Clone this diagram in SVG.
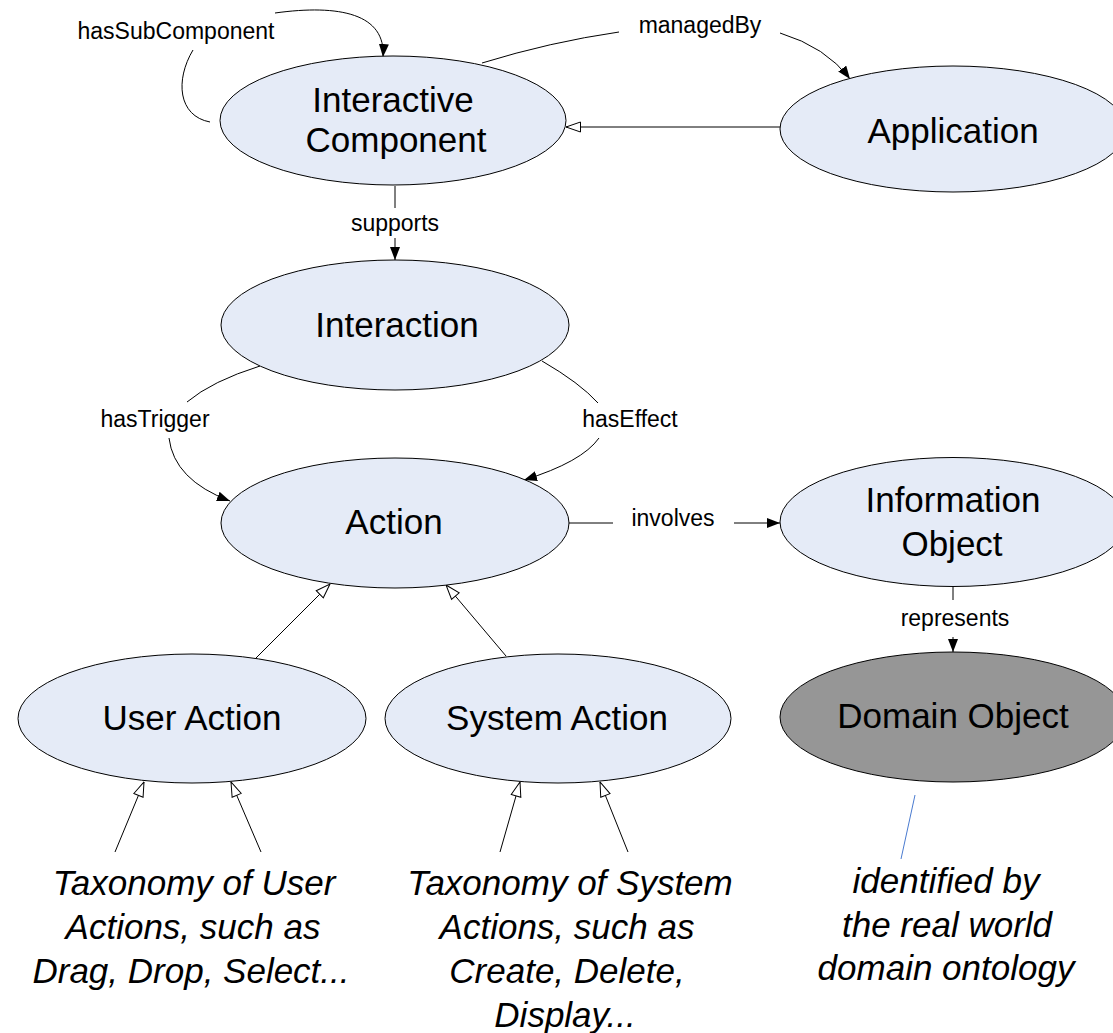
<svg xmlns="http://www.w3.org/2000/svg" width="1113" height="1033" viewBox="0 0 1113 1033">
<style>
.node{fill:#E5EBF7;stroke:#000;stroke-width:1}
.dark{fill:#969696;stroke:#000;stroke-width:1}
.lbl{font-family:"Liberation Sans",Arial,sans-serif;font-size:35px;fill:#000;text-anchor:middle}
.small{font-family:"Liberation Sans",Arial,sans-serif;font-size:23px;fill:#000;text-anchor:middle}
.note{font-family:"Liberation Sans",Arial,sans-serif;font-size:35px;font-style:italic;fill:#000;text-anchor:middle}
.edge{fill:none;stroke:#000;stroke-width:1}
.arr{marker-end:url(#arrow)}
.inh{marker-end:url(#hollow)}
</style>
<defs>
<marker id="arrow" viewBox="0 0 13 10" refX="13" refY="5" markerWidth="13" markerHeight="10" orient="auto" markerUnits="userSpaceOnUse"><path d="M0,0 L13,5 L0,10 z" fill="#000"/></marker>
<marker id="hollow" viewBox="0 0 16 12" refX="15.5" refY="6" markerWidth="16" markerHeight="12" orient="auto" markerUnits="userSpaceOnUse"><path d="M1,1 L15.5,6 L1,11 z" fill="#fff" stroke="#000" stroke-width="1"/></marker>
</defs>
<rect width="1113" height="1033" fill="#fff"/>

<g id="connectors">
<!-- hasSubComponent -->
<path class="edge" d="M193 50 C175 80 178 116 210 122"/>
<path class="edge arr" d="M275 13 C340 4 386 14 383 57"/>
<text class="small" x="176" y="39">hasSubComponent</text>
<!-- managedBy -->
<path class="edge" d="M482 63 Q550 42 619 32"/>
<path class="edge arr" d="M780 33 Q826 47 850 79"/>
<text class="small" x="700" y="33">managedBy</text>
<!-- Application isa InteractiveComponent -->
<line class="edge inh" x1="780" y1="127" x2="566" y2="127"/>
<!-- supports -->
<line class="edge" x1="395" y1="186" x2="395" y2="208"/>
<line class="edge arr" x1="395" y1="238" x2="395" y2="260"/>
<text class="small" x="395" y="231">supports</text>
<!-- hasTrigger -->
<path class="edge" d="M260 366 Q212 381 187 402"/>
<path class="edge arr" d="M169 438 Q174 480 230 501"/>
<text class="small" x="155" y="427">hasTrigger</text>
<!-- hasEffect -->
<path class="edge" d="M542 361 Q580 383 598 403"/>
<path class="edge arr" d="M599 438 Q582 462 524 480"/>
<text class="small" x="630" y="427">hasEffect</text>
<!-- involves -->
<line class="edge" x1="568" y1="523" x2="613" y2="523"/>
<line class="edge arr" x1="734" y1="523" x2="780" y2="523"/>
<text class="small" x="673" y="526">involves</text>
<!-- represents -->
<line class="edge" x1="953" y1="587" x2="953" y2="600"/>
<line class="edge arr" x1="953" y1="637" x2="953" y2="652"/>
<text class="small" x="955" y="626">represents</text>
<!-- inheritance to Action -->
<line class="edge inh" x1="256" y1="658" x2="330" y2="584"/>
<line class="edge inh" x1="506" y1="656" x2="446" y2="585"/>
<!-- taxonomy to User Action -->
<line class="edge inh" x1="115" y1="852" x2="144" y2="782"/>
<line class="edge inh" x1="261" y1="852" x2="231" y2="782"/>
<!-- taxonomy to System Action -->
<line class="edge inh" x1="500" y1="852" x2="520" y2="782"/>
<line class="edge inh" x1="628" y1="852" x2="600" y2="782"/>
<!-- domain note -->
<line x1="915" y1="795" x2="901" y2="859" stroke="#4A7BD0" stroke-width="1"/>
</g>

<g id="interactive-component">
<ellipse class="node" cx="393" cy="120.5" rx="173" ry="64.5"/>
<text class="lbl" x="393" y="112">Interactive</text>
<text class="lbl" x="396" y="152">Component</text>
</g>
<g id="application">
<ellipse class="node" cx="953" cy="129" rx="173" ry="63"/>
<text class="lbl" x="953" y="143">Application</text>
</g>
<g id="interaction">
<ellipse class="node" cx="395" cy="325" rx="174" ry="65"/>
<text class="lbl" x="397" y="337">Interaction</text>
</g>
<g id="action">
<ellipse class="node" cx="395" cy="523" rx="174" ry="65"/>
<text class="lbl" x="394" y="534">Action</text>
</g>
<g id="information-object">
<ellipse class="node" cx="953" cy="522" rx="173" ry="64.5"/>
<text class="lbl" x="953" y="512">Information</text>
<text class="lbl" x="952" y="556">Object</text>
</g>
<g id="domain-object">
<ellipse class="dark" cx="953" cy="717" rx="173" ry="65"/>
<text class="lbl" x="953" y="728">Domain Object</text>
</g>
<g id="user-action">
<ellipse class="node" cx="192" cy="718.5" rx="174" ry="64.5"/>
<text class="lbl" x="192" y="730">User Action</text>
</g>
<g id="system-action">
<ellipse class="node" cx="558" cy="718.5" rx="173" ry="64.5"/>
<text class="lbl" x="557" y="730">System Action</text>
</g>

<g id="note-user">
<text class="note" x="194" y="895">Taxonomy of User</text>
<text class="note" x="193" y="939">Actions, such as</text>
<text class="note" x="191" y="983">Drag, Drop, Select...</text>
</g>
<g id="note-system">
<text class="note" x="570" y="895">Taxonomy of System</text>
<text class="note" x="567" y="939">Actions, such as</text>
<text class="note" x="567" y="983">Create, Delete,</text>
<text class="note" x="565" y="1027">Display...</text>
</g>
<g id="note-domain">
<text class="note" x="946" y="893">identified by</text>
<text class="note" x="947" y="937">the real world</text>
<text class="note" x="946" y="980">domain ontology</text>
</g>
</svg>
